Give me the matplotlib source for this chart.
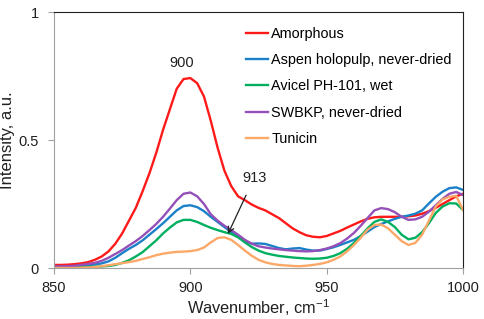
import numpy as np
import matplotlib
matplotlib.use('Agg')
import matplotlib.pyplot as plt

plt.rcParams['font.family'] = ['Liberation Sans', 'DejaVu Sans']

# wavenumber grid, cm-1
wn = np.arange(850, 1000.1, 2.5)

amorphous = [0.012, 0.012, 0.013, 0.015, 0.018, 0.023, 0.032, 0.045, 0.065, 0.095,
             0.135, 0.185, 0.235, 0.30, 0.37, 0.45, 0.54, 0.62, 0.70, 0.738,
             0.742, 0.722, 0.67, 0.575, 0.47, 0.38, 0.32, 0.28, 0.265, 0.248,
             0.235, 0.225, 0.21, 0.195, 0.175, 0.155, 0.14, 0.128, 0.122, 0.12,
             0.125, 0.135, 0.145, 0.158, 0.17, 0.182, 0.192, 0.198, 0.20, 0.20,
             0.20, 0.20, 0.202, 0.205, 0.212, 0.222, 0.235, 0.25, 0.265, 0.28,
             0.29]
aspen = [0.005, 0.005, 0.006, 0.007, 0.009, 0.011, 0.014, 0.018, 0.026, 0.04,
         0.058, 0.075, 0.09, 0.108, 0.13, 0.152, 0.175, 0.20, 0.225, 0.242,
         0.245, 0.238, 0.222, 0.20, 0.18, 0.16, 0.14, 0.122, 0.105, 0.095,
         0.096, 0.094, 0.086, 0.078, 0.073, 0.076, 0.078, 0.072, 0.068, 0.068,
         0.074, 0.081, 0.09, 0.10, 0.11, 0.125, 0.142, 0.16, 0.172, 0.182,
         0.192, 0.2, 0.205, 0.212, 0.225, 0.252, 0.278, 0.298, 0.312, 0.315,
         0.305]
avicel = [0.002, 0.002, 0.002, 0.002, 0.003, 0.004, 0.005, 0.006, 0.008, 0.012,
          0.02, 0.03, 0.045, 0.062, 0.085, 0.108, 0.135, 0.158, 0.178, 0.188,
          0.188, 0.18, 0.168, 0.157, 0.148, 0.14, 0.133, 0.12, 0.10, 0.082,
          0.068, 0.058, 0.052, 0.047, 0.044, 0.041, 0.039, 0.037, 0.036, 0.037,
          0.04, 0.047, 0.058, 0.075, 0.098, 0.125, 0.155, 0.18, 0.19, 0.18,
          0.16, 0.13, 0.112, 0.118, 0.14, 0.175, 0.215, 0.24, 0.253, 0.252,
          0.227]
swbkp = [0.005, 0.006, 0.007, 0.009, 0.012, 0.016, 0.02, 0.028, 0.04, 0.055,
         0.07, 0.088, 0.105, 0.125, 0.148, 0.172, 0.20, 0.232, 0.265, 0.29,
         0.295, 0.28, 0.25, 0.21, 0.185, 0.165, 0.148, 0.13, 0.11, 0.095,
         0.085, 0.08, 0.076, 0.073, 0.07, 0.068, 0.066, 0.065, 0.066, 0.07,
         0.076, 0.085, 0.097, 0.115, 0.137, 0.165, 0.195, 0.225, 0.234, 0.23,
         0.218, 0.2, 0.188, 0.19, 0.2, 0.22, 0.245, 0.27, 0.29, 0.297,
         0.285]
tunicin = [0.0, 0.0, 0.0, 0.0, 0.001, 0.002, 0.004, 0.007, 0.011, 0.015,
           0.019, 0.023, 0.028, 0.035, 0.042, 0.05, 0.056, 0.06, 0.063, 0.064,
           0.066, 0.07, 0.08, 0.10, 0.117, 0.12, 0.11, 0.09, 0.068, 0.048,
           0.032, 0.022, 0.016, 0.012, 0.01, 0.008, 0.007, 0.009, 0.012, 0.016,
           0.022, 0.032, 0.045, 0.065, 0.09, 0.118, 0.15, 0.168, 0.17, 0.155,
           0.13, 0.105, 0.09, 0.098, 0.13, 0.185, 0.24, 0.268, 0.278, 0.282,
           0.227]

labels = ['Amorphous', 'Aspen holopulp, never-dried', 'Avicel PH-101, wet',
          'SWBKP, never-dried', 'Tunicin']
colors = ['#ff1a1a', '#1a80c8', '#00b060', '#9450b8', '#fca868']
series = [amorphous, aspen, avicel, swbkp, tunicin]

fig = plt.figure(figsize=(4.84, 3.19), dpi=100)
ax = fig.add_axes([54 / 484, 51 / 319, 409 / 484, 256 / 319])

for y, c, lab in zip(series, colors, labels):
    ax.plot(wn, y, color=c, lw=1.7, label=lab)

ax.set_xlim(850, 1000)
ax.set_ylim(0, 1)
ax.set_xticks([850, 900, 950, 1000])
ax.set_yticks([0, 0.5, 1])
ax.set_yticklabels(['0', '0.5', '1'])

for s in ['left', 'bottom']:
    ax.spines[s].set_color('#a0a0a0')
for s in ['top', 'right']:
    ax.spines[s].set_color('#202020')
ax.tick_params(direction='out', length=4, color='#a0a0a0', labelsize=10.5,
               labelcolor='#202020')
ax.tick_params(axis='y', pad=7)
ax.tick_params(axis='x', pad=5)

ax.set_xlabel('Wavenumber, cm$^{\\mathregular{-1}}$', fontsize=11.8, color='#202020', labelpad=2)
ax.set_ylabel('Intensity, a.u.', fontsize=12, color='#202020')
ax.yaxis.set_label_coords(-0.095, 0.5)

ax.text(896.8, 0.80, '900', fontsize=10.5, ha='center', va='center', color='#202020')
ax.annotate('913', xy=(913.8, 0.133), xytext=(923.4, 0.352), fontsize=10.5,
            ha='center', va='center', color='#202020',
            arrowprops=dict(arrowstyle='->', color='#202020', lw=0.9,
                            shrinkA=6, shrinkB=0))

ax.legend(loc='upper left', bbox_to_anchor=(0.455, 0.965), frameon=False,
          fontsize=10.4, handlelength=1.5, handletextpad=0.25, labelspacing=0.85,
          borderaxespad=0)

fig.savefig('out.png', dpi=100)
